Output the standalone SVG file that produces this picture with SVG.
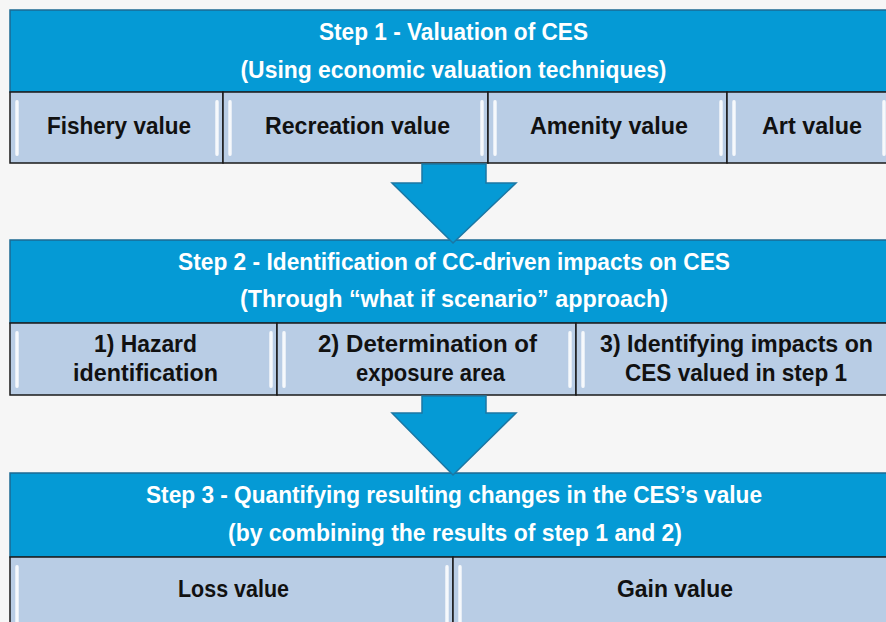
<svg xmlns="http://www.w3.org/2000/svg" width="886" height="622" viewBox="0 0 886 622">
  <style>
    .hdr { fill: #059ad5; stroke: #1d6a92; stroke-width: 1.5; }
    .cell { fill: #b9cde5; stroke: #1a1a1a; stroke-width: 1.5; }
    .arrow { fill: #059ad5; stroke: #1b77a4; stroke-width: 1.5; stroke-linejoin: miter; }
    .ht { font-family: "Liberation Sans", Arial, sans-serif; font-weight: bold; font-size: 23px; fill: #ffffff; text-anchor: middle; }
    .ct { font-family: "Liberation Sans", Arial, sans-serif; font-weight: bold; font-size: 23px; fill: #111111; text-anchor: middle; }
    .hl { fill: url(#shine); }
  </style>
  <defs>
    <linearGradient id="shine" x1="0" y1="0" x2="1" y2="0">
      <stop offset="0" stop-color="#ffffff" stop-opacity="0.5"/>
      <stop offset="0.5" stop-color="#ffffff" stop-opacity="1"/>
      <stop offset="1" stop-color="#ffffff" stop-opacity="0.5"/>
    </linearGradient>
  </defs>

  <rect x="0" y="0" width="886" height="622" fill="#f6f6f6"/>

  <!-- Step 1 -->
  <g id="step1">
    <rect class="hdr" x="10" y="10" width="887" height="82"/>
    <text class="ht" x="453.5" y="40" textLength="269" lengthAdjust="spacingAndGlyphs">Step 1 - Valuation of CES</text>
    <text class="ht" x="453.5" y="78" textLength="426" lengthAdjust="spacingAndGlyphs">(Using economic valuation techniques)</text>
  </g>
  <g id="fishery">
    <rect class="cell" x="10" y="92" width="213" height="71"/>
    <rect class="hl" x="15" y="100" width="4" height="56" rx="2"/>
    <rect class="hl" x="215" y="100" width="4" height="56" rx="2"/>
    <text class="ct" x="119" y="134" textLength="144" lengthAdjust="spacingAndGlyphs">Fishery value</text>
  </g>
  <g id="recreation">
    <rect class="cell" x="223" y="92" width="265" height="71"/>
    <rect class="hl" x="228" y="100" width="4" height="56" rx="2"/>
    <rect class="hl" x="480" y="100" width="4" height="56" rx="2"/>
    <text class="ct" x="357.5" y="134" textLength="185" lengthAdjust="spacingAndGlyphs">Recreation value</text>
  </g>
  <g id="amenity">
    <rect class="cell" x="488" y="92" width="239" height="71"/>
    <rect class="hl" x="493" y="100" width="4" height="56" rx="2"/>
    <rect class="hl" x="719" y="100" width="4" height="56" rx="2"/>
    <text class="ct" x="609" y="134" textLength="158" lengthAdjust="spacingAndGlyphs">Amenity value</text>
  </g>
  <g id="art">
    <rect class="cell" x="727" y="92" width="170" height="71"/>
    <rect class="hl" x="732" y="100" width="4" height="56" rx="2"/>
    <rect class="hl" x="882" y="100" width="4" height="56" rx="2"/>
    <text class="ct" x="812" y="134" textLength="100" lengthAdjust="spacingAndGlyphs">Art value</text>
  </g>

  <!-- Step 2 -->
  <g id="step2">
    <rect class="hdr" x="10" y="240" width="887" height="83"/>
    <text class="ht" x="454" y="270" textLength="552" lengthAdjust="spacingAndGlyphs">Step 2 - Identification of CC-driven impacts on CES</text>
    <text class="ht" x="454" y="307" textLength="428" lengthAdjust="spacingAndGlyphs">(Through “what if scenario” approach)</text>
  </g>
  <g id="hazard">
    <rect class="cell" x="10" y="323" width="267" height="72"/>
    <rect class="hl" x="15" y="331" width="4" height="57" rx="2"/>
    <rect class="hl" x="269" y="331" width="4" height="57" rx="2"/>
    <text class="ct" x="145.5" y="352" textLength="103" lengthAdjust="spacingAndGlyphs">1) Hazard</text>
    <text class="ct" x="145.5" y="381" textLength="145" lengthAdjust="spacingAndGlyphs">identification</text>
  </g>
  <g id="exposure">
    <rect class="cell" x="277" y="323" width="299" height="72"/>
    <rect class="hl" x="282" y="331" width="4" height="57" rx="2"/>
    <rect class="hl" x="568" y="331" width="4" height="57" rx="2"/>
    <text class="ct" x="427.5" y="352" textLength="219" lengthAdjust="spacingAndGlyphs">2) Determination of</text>
    <text class="ct" x="430.5" y="381" textLength="149" lengthAdjust="spacingAndGlyphs">exposure area</text>
  </g>
  <g id="impacts">
    <rect class="cell" x="576" y="323" width="321" height="72"/>
    <rect class="hl" x="581" y="331" width="4" height="57" rx="2"/>
    <text class="ct" x="736.5" y="352" textLength="273" lengthAdjust="spacingAndGlyphs">3) Identifying impacts on</text>
    <text class="ct" x="736" y="381" textLength="222" lengthAdjust="spacingAndGlyphs">CES valued in step 1</text>
  </g>

  <!-- Step 3 -->
  <g id="step3">
    <rect class="hdr" x="10" y="473" width="887" height="84"/>
    <text class="ht" x="454" y="503" textLength="616" lengthAdjust="spacingAndGlyphs">Step 3 - Quantifying resulting changes in the CES’s value</text>
    <text class="ht" x="455" y="541" textLength="454" lengthAdjust="spacingAndGlyphs">(by combining the results of step 1 and 2)</text>
  </g>
  <g id="loss">
    <rect class="cell" x="10" y="557" width="443" height="80"/>
    <rect class="hl" x="15" y="565" width="4" height="70" rx="2"/>
    <rect class="hl" x="445" y="565" width="4" height="70" rx="2"/>
    <text class="ct" x="233.5" y="597" textLength="111" lengthAdjust="spacingAndGlyphs">Loss value</text>
  </g>
  <g id="gain">
    <rect class="cell" x="453" y="557" width="444" height="80"/>
    <rect class="hl" x="458" y="565" width="4" height="70" rx="2"/>
    <text class="ct" x="675" y="597" textLength="116" lengthAdjust="spacingAndGlyphs">Gain value</text>
  </g>

  <!-- Connectors -->
  <g id="connectors">
    <polygon class="arrow" points="422,164 486,164 486,183 516,183 453,243 392,183 422,183"/>
    <polygon class="arrow" points="422,396 486,396 486,413 516,413 453,475 392,413 422,413"/>
  </g>
</svg>
